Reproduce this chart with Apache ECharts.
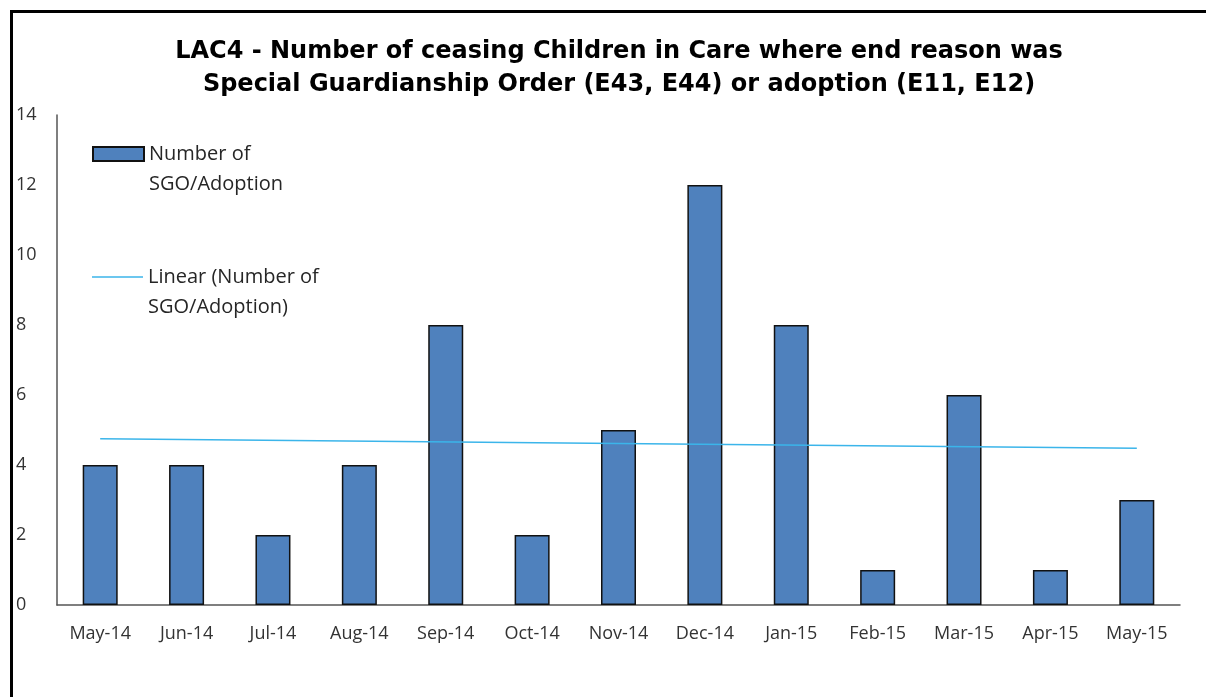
<!DOCTYPE html>
<html>
<head>
<meta charset="utf-8">
<script src="https://cdn.jsdelivr.net/npm/echarts@6/dist/echarts.min.js"></script>
<style>
html,body{margin:0;padding:0;background:#fff;overflow:hidden;}
#frame{position:absolute;left:10px;top:10px;width:1400px;height:900px;border:3px solid #000;box-sizing:border-box;}
#chart{position:absolute;left:0;top:0;width:1206px;height:697px;}
</style>
</head>
<body>
<div id="frame"></div>
<div id="chart"></div>
<script>
var categories = ['May-14','Jun-14','Jul-14','Aug-14','Sep-14','Oct-14','Nov-14','Dec-14','Jan-15','Feb-15','Mar-15','Apr-15','May-15'];
var values = [4,4,2,4,8,2,5,12,8,1,6,1,3];
// trendline (start and end points)
var trend = [4.75,null,null,null,null,null,null,null,null,null,null,null,4.48];
var yTicks = [0,2,4,6,8,10,12,14];
var barName = 'Number of\nSGO/Adoption';
var lineName = 'Linear (Number of\nSGO/Adoption)';

var chart = echarts.init(document.getElementById('chart'));
var labelFont = '"Open Sans", "Noto Sans", sans-serif';
var legendText = {fontFamily:labelFont,fontSize:20,lineHeight:30,color:'#262626'};
chart.setOption({
  animation:false,
  backgroundColor:'transparent',
  title:{
    text:'LAC4 - Number of ceasing Children in Care where end reason was\nSpecial Guardianship Order (E43, E44) or adoption (E11, E12)',
    left:614, top:30, textAlign:'center',
    textStyle:{fontFamily:'"DejaVu Sans", sans-serif',fontWeight:'bold',fontSize:24,lineHeight:33,color:'#000'}
  },
  legend:[
    {data:[{name:barName,icon:'rect'}],left:92,top:109,padding:0,orient:'vertical',itemWidth:51,itemHeight:14,
     formatter:function(n){return ' \n'+n;},textStyle:legendText},
    {data:[{name:lineName,icon:'path://M0,0L51,0L51,1.5L0,1.5Z'}],left:92,top:232,padding:0,orient:'vertical',itemWidth:51,itemHeight:2,
     formatter:function(n){return ' \n'+n;},textStyle:legendText}
  ],
  grid:{left:57,right:26,top:115,bottom:92,containLabel:false},
  xAxis:{
    type:'category',data:categories,
    axisLine:{lineStyle:{color:'#555',width:1.5}},
    axisTick:{show:false},
    axisLabel:{fontFamily:labelFont,fontSize:18,color:'#333',margin:20}
  },
  yAxis:{
    type:'value',min:0,max:14,interval:2,
    axisLine:{show:true,lineStyle:{color:'#555',width:1.5}},
    axisTick:{show:false},
    splitLine:{show:false},
    axisLabel:{fontFamily:labelFont,fontSize:18,color:'#333',margin:41,align:'left',
      formatter:function(v){return yTicks.indexOf(v)>=0?String(v):'';}}
  },
  series:[
    {name:barName,type:'bar',data:values,barWidth:35,
     itemStyle:{color:'#4F81BD',borderColor:'#111',borderWidth:1.5}},
    {name:lineName,type:'line',data:trend,connectNulls:true,symbol:'none',z:5,
     lineStyle:{color:'#3BB5EA',width:1.5},itemStyle:{color:'#3BB5EA'}}
  ]
});
</script>
</body>
</html>
